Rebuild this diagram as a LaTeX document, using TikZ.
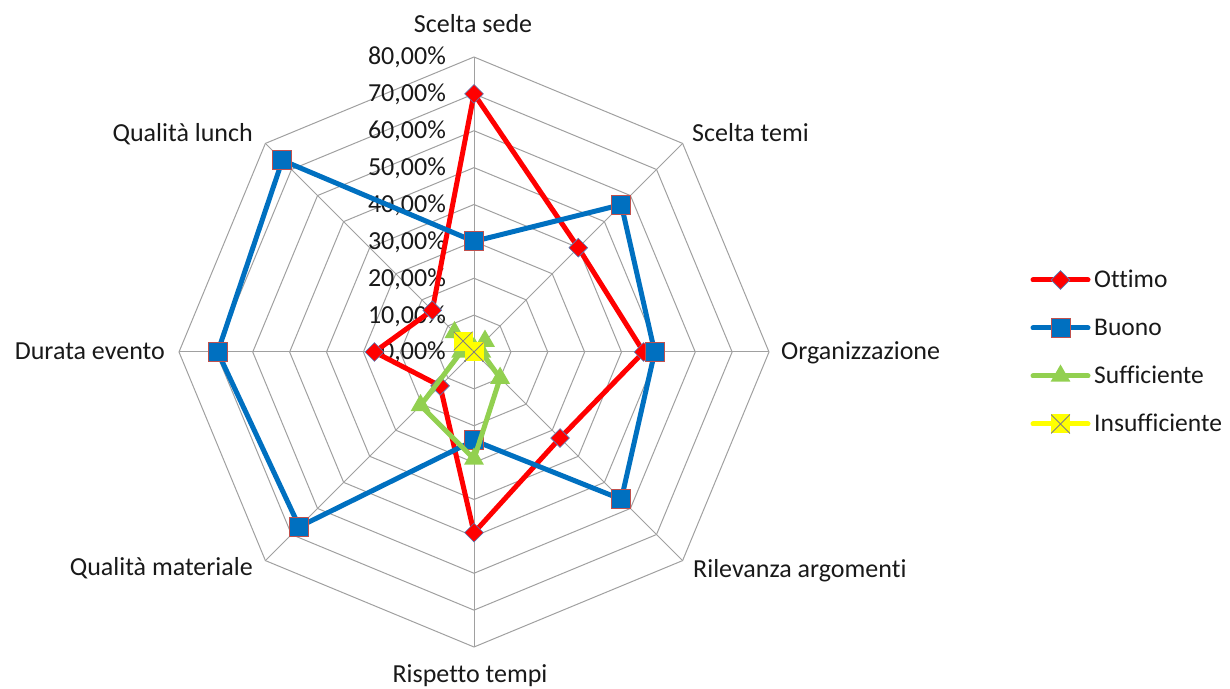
\documentclass[tikz,border=0pt]{standalone}
\usepackage{fontspec}
\setmainfont{Carlito}[Ligatures=NoCommon]
\usetikzlibrary{shapes.geometric}
\definecolor{ottred}{RGB}{255,0,0}
\definecolor{buoblue}{RGB}{0,112,192}
\definecolor{sufgreen}{RGB}{146,208,80}
\definecolor{insyellow}{RGB}{255,255,0}
\definecolor{gridgray}{RGB}{160,160,160}
\definecolor{mkred}{RGB}{192,80,77}
\definecolor{mkblue}{RGB}{79,129,189}
\newcommand{\pct}{3.6875}

\begin{document}
\begin{tikzpicture}[x=1pt,y=1pt,
    grid/.style={gridgray, line width=1pt},
    serie/.style={line width=5pt, line join=round},
    dmark/.style={diamond, fill=ottred, draw=mkblue, line width=0.6pt, inner sep=0pt, minimum size=19pt},
    smark/.style={rectangle, fill=buoblue, draw=mkred, line width=1pt, inner sep=0pt, minimum size=19pt},
    tmark/.style={regular polygon, regular polygon sides=3, fill=sufgreen, inner sep=0pt, minimum size=23pt},
    xmark/.style={rectangle, fill=insyellow, inner sep=0pt, minimum size=19pt,
        path picture={\draw[gray, line width=0.8pt] (path picture bounding box.south west) -- (path picture bounding box.north east)
            (path picture bounding box.north west) -- (path picture bounding box.south east);}},
    axlab/.style={font=\fontsize{26}{28}\selectfont, text=black!90, inner sep=0pt},
    ]
    \useasboundingbox (0,0) rectangle (1230,688);
    \begin{scope}[shift={(474,336)}]
        % rings and spokes
        \foreach \r in {1,...,8} {
            \draw[grid] (0:\r*36.875) \foreach \a in {45,90,...,315} { -- (\a:\r*36.875) } -- cycle;
        }
        \foreach \a in {0,45,...,315}
            \draw[grid] (0,0) -- (\a:295);
        % scale
        \foreach \r [evaluate=\r as \t using int(10*\r)] in {0,...,8}
            \node[axlab, anchor=base east] (p\r) at (-28,{\r*36.875-8}) {\t,00\%};
        % axis names
        \node[axlab, anchor=base] (sede) at (-1,319) {Scelta sede};
        \node[axlab, anchor=base west] (temi) at (218,210) {Scelta temi};
        \node[axlab, anchor=base west] (org) at (307,-8) {Organizzazione};
        \node[axlab, anchor=base west] (ril) at (219,-225) {Rilevanza argomenti};
        \node[axlab, anchor=base] (tempi) at (-4,-330) {Rispetto tempi};
        \node[axlab, anchor=base east] (mat) at (-221,-223) {Qualità materiale};
        \node[axlab, anchor=base east] (durata) at (-309,-8) {Durata evento};
        \node[axlab, anchor=base east] (lunch) at (-221,210) {Qualità lunch};
        % Ottimo
        \draw[serie, ottred] (90:70*\pct) \foreach \v [count=\i] in {40,46,33,49,13,27,16} { -- ({90-45*\i}:\v*\pct) } -- cycle;
        \foreach \v [count=\i from 0] in {70,40,46,33,49,13,27,16}
            \node[dmark] (o\i) at ({90-45*\i}:\v*\pct) {};
        % Buono
        \draw[serie, buoblue] (90:30*\pct) \foreach \v [count=\i] in {56.5,49,56.5,24,67,69.5,73.5} { -- ({90-45*\i}:\v*\pct) } -- cycle;
        \foreach \v [count=\i from 0] in {30,56.5,49,56.5,24,67,69.5,73.5}
            \node[smark] (b\i) at ({90-45*\i}:\v*\pct) {};
        % Sufficiente
        \draw[serie, sufgreen] (90:1*\pct) \foreach \v [count=\i] in {4.2,2,10,29,20.5,3.5,7.5} { -- ({90-45*\i}:\v*\pct) } -- cycle;
        \foreach \v [count=\i from 0] in {1,4.2,2,10,29,20.5,3.5,7.5}
            \node[tmark] (s\i) at ({90-45*\i}:\v*\pct) {};
        % Insufficiente
        \draw[serie, insyellow] (90:0) \foreach \v [count=\i] in {0,0,0,0,0,0,4.2} { -- ({90-45*\i}:\v*\pct) } -- cycle;
        \foreach \v [count=\i from 0] in {0,0,0,0,0,0,0,4.2}
            \node[xmark] (x\i) at ({90-45*\i}:\v*\pct) {};
    \end{scope}
    % legend
    \foreach \col/\mk/\txt [count=\k from 0] in {ottred/dmark/Ottimo, buoblue/smark/Buono, sufgreen/tmark/Sufficiente, insyellow/xmark/Insufficiente} {
        \coordinate (la\k) at (1033,408-48*\k);
        \coordinate (lb\k) at (1088,408-48*\k);
        \draw[\col, line width=5pt, line cap=round] (la\k) -- (lb\k);
        \node[\mk] (lm\k) at (1060.5,408-48*\k) {};
        \node[axlab, anchor=base west, font=\fontsize{25.5}{28}\selectfont] (lt\k) at (1094,400-48*\k) {\txt};
    }
\end{tikzpicture}
\end{document}
